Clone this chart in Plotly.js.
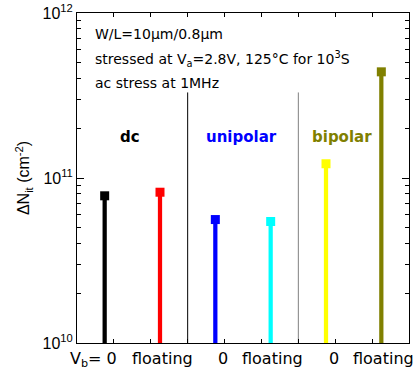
<!DOCTYPE html>
<html>
<head>
<meta charset="utf-8">
<script src="https://cdn.plot.ly/plotly-3.0.1.min.js"></script>
<style>html,body{margin:0;padding:0;background:#fff;}#chart{width:416px;height:374px;}</style>
</head>
<body>
<div id="chart"></div>
<script>
// ---- data ----
var conditions = ["V<sub>b</sub>= 0", "floating", "0", "floating", "0", "floating"];
var deltaNit = [7.8e10, 8.2e10, 5.6e10, 5.45e10, 1.22e11, 4.4e11];
var colors = ["#000000", "#ff0000", "#0000ff", "#00ffff", "#ffff00", "#808000"];
var groups = ["dc", "unipolar", "bipolar"];
var groupColors = ["#000000", "#0000ff", "#808000"];
var notes = ["W/L=10μm/0.8μm", "stressed at V<sub>a</sub>=2.8V, 125°C for 10<sup>3</sup>S", "ac stress at 1MHz"];
var yTickVals = [1e10, 1e11, 1e12];
var yTickText = ["10<sup>10</sup>", "10<sup>11</sup>", "10<sup>12</sup>"];
var separatorTop = 3.3e11;

// ---- layout helpers ----
var xpos = conditions.map(function(_, i){ return 0.75 + 1.5 * i; });
var minorVals = [];
[1e10, 1e11].forEach(function(d){ for (var k = 2; k <= 9; k++) minorVals.push(k * d); });

var traces = [];
traces.push({
  type: 'bar', x: xpos, y: deltaNit, width: 0.115,
  marker: {color: colors, line: {width: 0}}, hoverinfo: 'skip', showlegend: false
});
traces.push({
  type: 'scatter', mode: 'markers', x: xpos, y: deltaNit,
  marker: {symbol: 'square', size: 9, color: colors, line: {width: 0}},
  showlegend: false, hoverinfo: 'skip'
});
// group separators
[[3, '#000000'], [6, '#808080']].forEach(function(s){
  traces.push({type: 'scatter', mode: 'lines', x: [s[0], s[0]], y: [1e10, separatorTop],
    line: {color: s[1], width: 1}, showlegend: false, hoverinfo: 'skip'});
});

var annotations = [];
var labelShift = [14, 2, 8, 2, 8, 2];
conditions.forEach(function(c, i){
  annotations.push({
    x: xpos[i], xref: 'x', y: 0, yref: 'paper', yanchor: 'top',
    xanchor: i === 0 ? 'right' : 'center', xshift: labelShift[i], yshift: -4,
    text: c, showarrow: false,
    font: {family: 'DejaVu Sans', size: 16, color: '#000'}
  });
});
var groupX = [1.45, 4.47, 7.18];
groups.forEach(function(g, i){
  annotations.push({
    x: groupX[i], xref: 'x', y: Math.log10(1.78e11), yref: 'y',
    text: '<b>' + g + '</b>', showarrow: false,
    font: {family: 'DejaVu Sans', size: 15, color: groupColors[i]}
  });
});
var noteY = [0.935, 0.86, 0.788];
notes.forEach(function(n, i){
  annotations.push({
    x: 0.047, xref: 'paper', y: noteY[i], yref: 'paper', xanchor: 'left', yanchor: 'middle',
    text: n, showarrow: false,
    font: {family: 'DejaVu Sans', size: 14, color: '#000'}
  });
});

var layout = {
  width: 416, height: 374,
  margin: {l: 77, r: 7, t: 13, b: 31, pad: 0},
  paper_bgcolor: '#fff', plot_bgcolor: '#fff',
  showlegend: false,
  xaxis: {
    range: [0, 9], tickmode: 'array', tickvals: [1,2,3,4,5,6,7,8],
    ticks: 'inside', ticklen: 4, tickcolor: '#000', tickwidth: 1,
    showticklabels: false, showgrid: false, zeroline: false,
    showline: true, linecolor: '#000', linewidth: 1, mirror: 'ticks'
  },
  yaxis: {
    type: 'log', range: [10, 12], tickmode: 'array', tickvals: yTickVals, ticktext: yTickText,
    ticks: 'inside', ticklen: 7, tickcolor: '#000', tickwidth: 1,
    minor: {tickmode: 'array', tickvals: minorVals, ticks: 'inside', ticklen: 4, tickcolor: '#000', showgrid: false},
    showgrid: false, zeroline: false, showline: true, linecolor: '#000', linewidth: 1, mirror: 'ticks',
    tickfont: {family: 'Liberation Sans', size: 16, color: '#000'},
    title: {text: 'ΔN<sub>it</sub> (cm<sup>-2</sup>)', font: {family: 'Liberation Sans', size: 16, color: '#000'}, standoff: 8}
  },
  annotations: annotations
};

Plotly.newPlot('chart', traces, layout, {staticPlot: true, displayModeBar: false});
</script>
</body>
</html>
